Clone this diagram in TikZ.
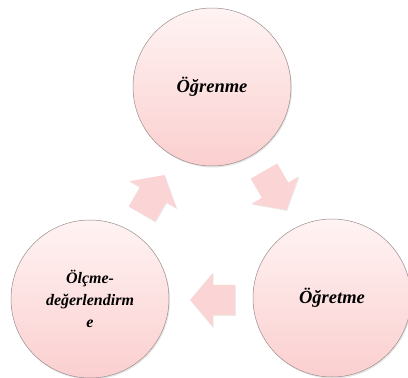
\documentclass[tikz,border=0pt]{standalone}
\usepackage{fontspec}
\setmainfont{Liberation Serif}
\usepackage{tikz}
\usetikzlibrary{calc, shapes.arrows, shadows}
\definecolor{circtop}{HTML}{FFF3F3}
\definecolor{circbot}{HTML}{FBCFCF}
\definecolor{circline}{HTML}{9A8C8C}
\definecolor{arrfill}{HTML}{FBD5D5}
\tikzset{
  stage/.style={circle, draw=circline, line width=0.5pt, minimum size=158pt, inner sep=0pt,
    top color=circtop, bottom color=circbot, align=center,
    font=\fontsize{18.5}{22}\selectfont\bfseries\itshape,
    drop shadow={opacity=0.2, shadow xshift=1pt, shadow yshift=-1.5pt}},
  cycarrow/.style={single arrow, draw=none, fill=arrfill, inner xsep=0pt, inner ysep=15pt,
    minimum height=45pt, single arrow head extend=12pt,
    single arrow tip angle=100,
    drop shadow={opacity=0.15, shadow xshift=0.8pt, shadow yshift=-1pt}}
}

\begin{document}
\begin{tikzpicture}[x=1pt, y=-1pt]
  \useasboundingbox (0,0) rectangle (408,378);
  % the three stages
  \node[stage] (learn) at (212,87) {Öğrenme};
  \node[stage] (teach) at (332,298) {Öğretme};
  \node[stage, font=\fontsize{16}{22}\selectfont\bfseries\itshape] (assess) at (90,299) {Ölçme-\\değerlendirm\\e};
  % block arrows of the cycle
  \node[cycarrow, rotate=60] (a1) at (150,200) {};
  \node[cycarrow, rotate=-60] (a2) at (272,185) {};
  \node[cycarrow, rotate=180] (a3) at (219,300) {};
\end{tikzpicture}
\end{document}
